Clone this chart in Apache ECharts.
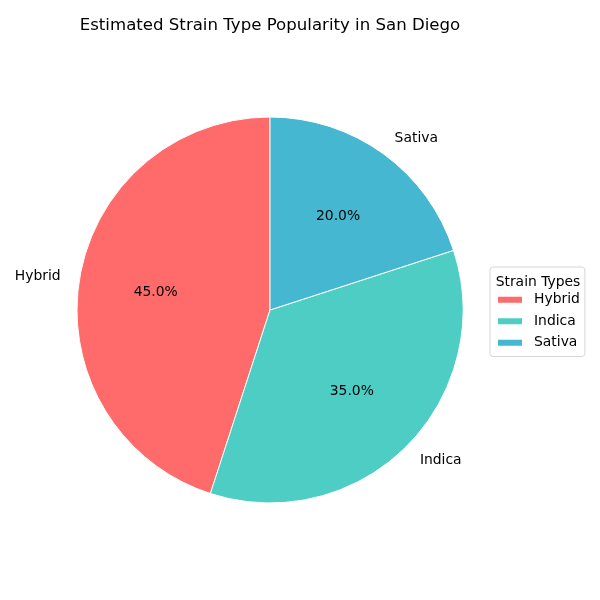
<!DOCTYPE html>
<html>
<head>
<meta charset="utf-8">
<script src="https://cdn.jsdelivr.net/npm/echarts@6/dist/echarts.min.js"></script>
<style>
  html, body { margin: 0; padding: 0; background: #fff; }
  #chart { width: 600px; height: 600px; }
</style>
</head>
<body>
<div id="chart"></div>
<script>
const categories = ["Hybrid", "Indica", "Sativa"];
const shares = [45, 35, 20];
const colors = ["#FF6B6B", "#4ECDC4", "#45B7D1"];

const font = "DejaVu Sans, sans-serif";
const center = [270, 310];
const radius = 193;

const pieData = categories.map((name, i) => ({
  name,
  value: shares[i],
  itemStyle: { color: colors[i] },
}));

const chart = echarts.init(document.getElementById("chart"));

chart.setOption({
  animation: false,
  title: [
    {
      text: "Estimated Strain Type Popularity in San Diego",
      left: 265,
      top: 12,
      textAlign: "center",
      textStyle: { fontFamily: font, fontSize: 16.6, fontWeight: "normal", color: "#000" },
    },
    {
      text: "Strain Types",
      left: 533,
      top: 270,
      textAlign: "center",
      z: 10,
      textStyle: { fontFamily: font, fontSize: 13.9, fontWeight: "normal", color: "#000" },
    },
  ],
  legend: {
    orient: "vertical",
    left: 490,
    top: 267,
    data: categories,
    icon: "rect",
    itemWidth: 26,
    itemHeight: 8,
    itemGap: 6,
    padding: [25, 5, 6, 6],
    borderColor: "#d6d6d6",
    borderWidth: 1,
    borderRadius: 3,
    backgroundColor: "#fff",
    selectedMode: false,
    textStyle: { fontFamily: font, fontSize: 13.9, color: "#000", lineHeight: 15.5, padding: [0, 0, 0, 6] },
  },
  series: [
    {
      type: "pie",
      center,
      radius: [0, radius],
      startAngle: 90,
      clockwise: false,
      avoidLabelOverlap: false,
      data: pieData,
      itemStyle: { borderColor: "#fff", borderWidth: 1 },
      label: {
        position: "outside",
        formatter: "{b}",
        fontFamily: font,
        fontSize: 13.9,
        color: "#000",
        distanceToLabelLine: 0,
      },
      labelLine: { show: false, length: 19, length2: 0 },
      emphasis: { disabled: true },
    },
    {
      type: "pie",
      center,
      radius: [0, radius * 1.168],
      startAngle: 90,
      clockwise: false,
      silent: true,
      data: pieData.map((d) => ({ name: d.name, value: d.value })),
      itemStyle: { color: "rgba(0,0,0,0)" },
      label: {
        position: "inside",
        formatter: (p) => p.value.toFixed(1) + "%",
        fontFamily: font,
        fontSize: 13.9,
        color: "#000",
      },
      labelLine: { show: false },
    },
  ],
});
</script>
</body>
</html>
